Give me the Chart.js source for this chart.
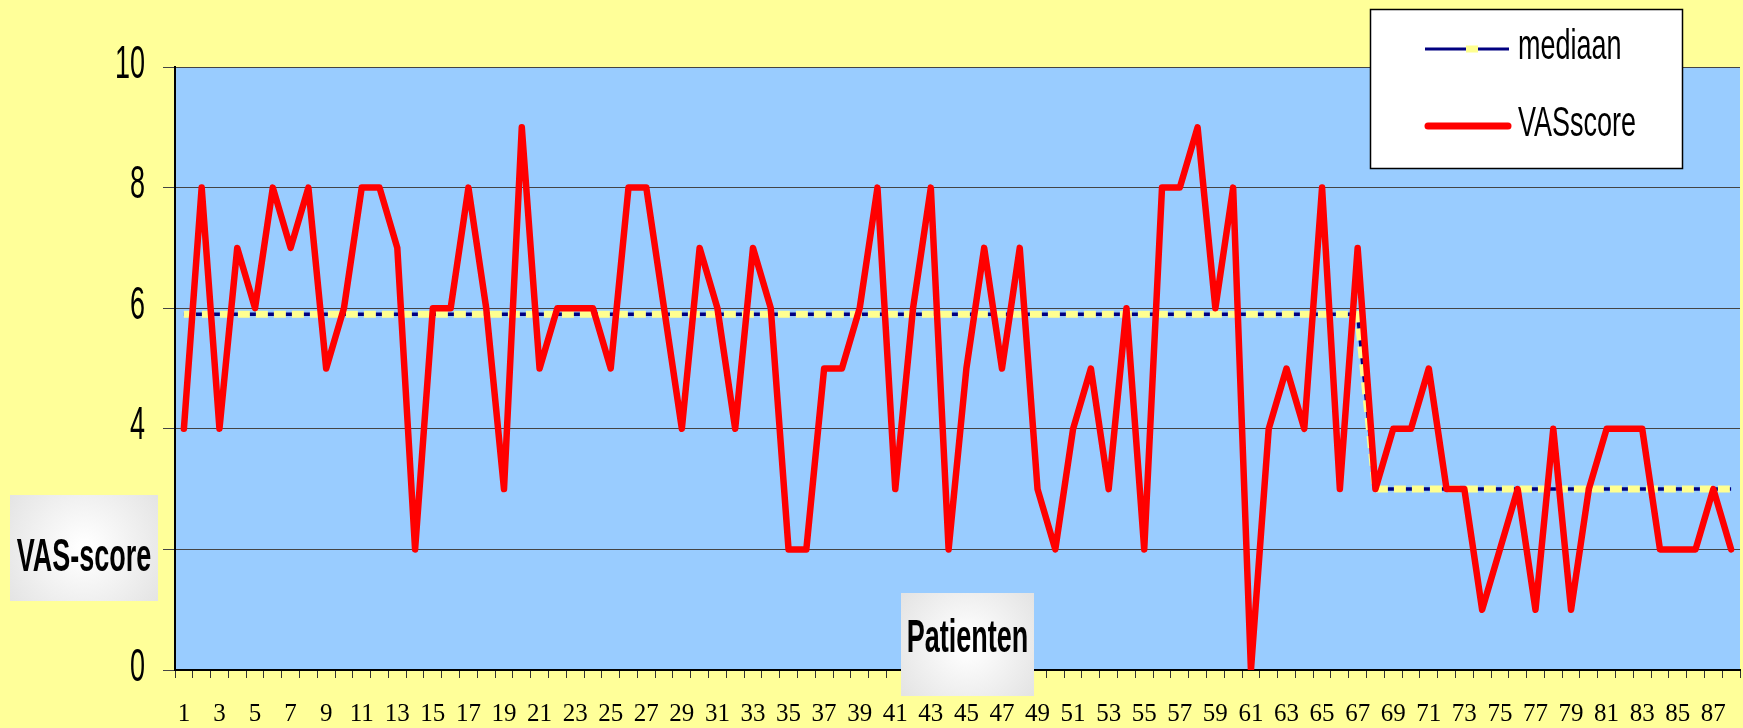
<!DOCTYPE html>
<html>
<head>
<meta charset="utf-8">
<script src="https://cdn.jsdelivr.net/npm/chart.js@4"></script>
<style>
    html, body { margin: 0; padding: 0; background: #FFFF99; overflow: hidden; }
    #wrap { width: 1743px; height: 728px; }
</style>
</head>
<body>
<div id="wrap"><canvas id="vasChart" width="1743" height="728"></canvas></div>
<script>
// patient numbers 1..88
const patients = Array.from({ length: 88 }, (_, i) => String(i + 1));

const vasScore = [
    4, 8, 4, 7, 6, 8, 7, 8, 5, 6,
    8, 8, 7, 2, 6, 6, 8, 6, 3, 9,
    5, 6, 6, 6, 5, 8, 8, 6, 4, 7,
    6, 4, 7, 6, 2, 2, 5, 5, 6, 8,
    3, 6, 8, 2, 5, 7, 5, 7, 3, 2,
    4, 5, 3, 6, 2, 8, 8, 9, 6, 8,
    0, 4, 5, 4, 8, 3, 7, 3, 4, 4,
    5, 3, 3, 1, 2, 3, 1, 4, 1, 3,
    4, 4, 4, 2, 2, 2, 3, 2
];

const mediaan = [
    5.9, 5.9, 5.9, 5.9, 5.9, 5.9, 5.9, 5.9, 5.9, 5.9,
    5.9, 5.9, 5.9, 5.9, 5.9, 5.9, 5.9, 5.9, 5.9, 5.9,
    5.9, 5.9, 5.9, 5.9, 5.9, 5.9, 5.9, 5.9, 5.9, 5.9,
    5.9, 5.9, 5.9, 5.9, 5.9, 5.9, 5.9, 5.9, 5.9, 5.9,
    5.9, 5.9, 5.9, 5.9, 5.9, 5.9, 5.9, 5.9, 5.9, 5.9,
    5.9, 5.9, 5.9, 5.9, 5.9, 5.9, 5.9, 5.9, 5.9, 5.9,
    5.9, 5.9, 5.9, 5.9, 5.9, 5.9, 5.9, 3, 3, 3,
    3, 3, 3, 3, 3, 3, 3, 3, 3, 3,
    3, 3, 3, 3, 3, 3, 3, 3
];

const yTicks = [0, 2, 4, 6, 8, 10];

const SERIF = "'Liberation Serif', 'Times New Roman', serif";
const SANS = "'Liberation Sans', Arial, sans-serif";

// text in the original is stretched vertically, so draw it scaled
function tallText(ctx, txt, x, y, font, align, sy) {
    ctx.save();
    ctx.font = font;
    ctx.fillStyle = '#000';
    ctx.textAlign = align;
    ctx.textBaseline = 'alphabetic';
    ctx.translate(x, y);
    ctx.scale(1, sy);
    ctx.fillText(txt, 0, 0);
    ctx.restore();
}

function labelBox(ctx, x, y, w, h, txt, tx, ty) {
    const g = ctx.createRadialGradient(x + w / 2, y + h / 2, 5, x + w / 2, y + h / 2, w * 0.65);
    g.addColorStop(0, '#ffffff');
    g.addColorStop(1, '#e2e2e2');
    ctx.fillStyle = g;
    ctx.fillRect(x, y, w, h);
    tallText(ctx, txt, tx, ty, 'bold 27px ' + SANS, 'center', 1.7);
}

const decor = {
    id: 'decor',
    beforeDraw(chart) {
        const { ctx, chartArea: a } = chart;
        ctx.save();
        ctx.fillStyle = '#99CCFF';
        ctx.fillRect(a.left, a.top, a.right - a.left, a.bottom - a.top);
        ctx.restore();
    },
    afterDraw(chart) {
        const ctx = chart.ctx;
        const y = chart.scales.y;

        // y tick labels
        yTicks.forEach(v => {
            tallText(ctx, String(v), 145, y.getPixelForValue(v) + 10.5, '27px ' + SANS, 'right', 1.7);
        });

        // axis titles
        labelBox(ctx, 10, 495, 148, 106, 'VAS-score', 84, 571);
        labelBox(ctx, 901, 593, 133, 103, 'Patienten', 967.5, 652);

        // legend
        ctx.save();
        ctx.fillStyle = '#fff';
        ctx.fillRect(1370, 9, 313, 160);
        ctx.strokeStyle = '#000';
        ctx.lineWidth = 1.5;
        ctx.strokeRect(1370.5, 9.5, 312, 159);

        ctx.strokeStyle = '#000080';
        ctx.lineWidth = 3;
        ctx.beginPath();
        ctx.moveTo(1425, 49);
        ctx.lineTo(1509, 49);
        ctx.stroke();
        ctx.fillStyle = '#FFFF90';
        ctx.fillRect(1466, 45.5, 12, 7);

        ctx.strokeStyle = '#FF0000';
        ctx.lineWidth = 7;
        ctx.lineCap = 'round';
        ctx.beginPath();
        ctx.moveTo(1428, 126);
        ctx.lineTo(1508, 126);
        ctx.stroke();
        ctx.restore();

        tallText(ctx, 'mediaan', 1518, 59, '27px ' + SANS, 'left', 1.6);
        tallText(ctx, 'VASscore', 1518, 136, '27px ' + SANS, 'left', 1.6);
    }
};

const ctx = document.getElementById('vasChart').getContext('2d');

new Chart(ctx, {
    type: 'line',
    data: {
        labels: patients,
        datasets: [{
            label: 'VASscore',
            data: vasScore,
            borderColor: '#FF0000',
            borderWidth: 6.5,
            borderJoinStyle: 'round',
            borderCapStyle: 'round',
            pointRadius: 0,
            tension: 0
        }, {
            label: 'mediaan',
            data: mediaan,
            borderColor: '#FFFF90',
            borderWidth: 7,
            borderDash: [12, 6],
            pointRadius: 0,
            tension: 0
        }, {
            label: 'mediaan',
            data: mediaan,
            borderColor: '#000080',
            borderWidth: 3.5,
            pointRadius: 0,
            tension: 0
        }]
    },
    options: {
        responsive: false,
        animation: false,
        events: [],
        layout: { padding: { top: 67, right: 3, left: 0, bottom: 0 } },
        plugins: {
            legend: { display: false },
            tooltip: { enabled: false }
        },
        scales: {
            x: {
                type: 'category',
                offset: true,
                border: { color: '#000', width: 2 },
                grid: {
                    offset: true,
                    drawOnChartArea: false,
                    drawTicks: true,
                    tickLength: 8,
                    color: '#333'
                },
                ticks: {
                    autoSkip: false,
                    maxRotation: 0,
                    minRotation: 0,
                    padding: 21,
                    color: '#000',
                    font: { family: SERIF, size: 25 },
                    callback: function (value, index) {
                        return index % 2 === 0 ? this.getLabelForValue(value) : '';
                    }
                },
                afterFit: function (scale) {
                    scale.height = 58;
                    scale.paddingLeft = 0;
                    scale.paddingRight = 0;
                }
            },
            y: {
                min: 0,
                max: 10,
                border: { color: '#000', width: 2 },
                grid: { color: '#444', lineWidth: 1, tickLength: 12 },
                ticks: { stepSize: 2, display: false },
                afterFit: function (scale) { scale.width = 175; }
            }
        }
    },
    plugins: [decor]
});
</script>
</body>
</html>
